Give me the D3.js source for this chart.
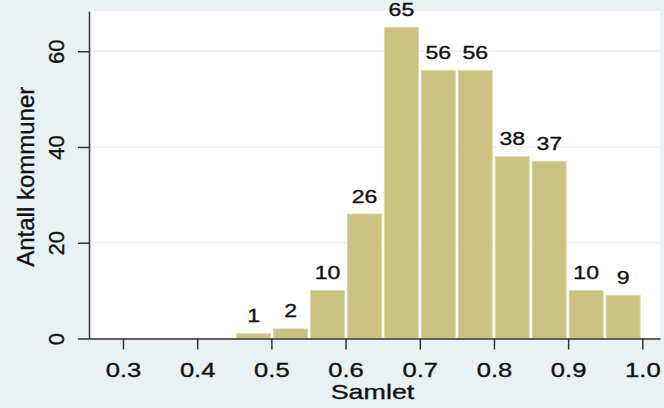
<!DOCTYPE html>
<html>
<head>
<meta charset="utf-8">
<script src="https://cdn.jsdelivr.net/npm/d3@7"></script>
<style>
  body { margin: 0; background: #e9f1f3; }
  text { font-family: "Liberation Sans", Arial, sans-serif; fill: #111; stroke: #111; stroke-width: 0.35px; }
</style>
</head>
<body>
<div id="chart"></div>
<script>
// histogram: 11 bins, lower edge of first bin and bin width
var binStart = 0.4525;
var binWidth = 0.0498;
var counts = [1, 2, 10, 26, 65, 56, 56, 38, 37, 10, 9];
var xTicks = [0.3, 0.4, 0.5, 0.6, 0.7, 0.8, 0.9, 1.0];
var yTicks = [0, 20, 40, 60];
var xTitle = "Samlet";
var yTitle = "Antall kommuner";

var width = 664, height = 408;
var plotL = 89, plotR = 660, plotT = 11, plotB = 338.5;
var stretch = 1.28; // horizontal text is drawn wide in the original

var svg = d3.select("#chart")
  .append("svg")
  .attr("width", width)
  .attr("height", height);

svg.append("rect")
  .attr("width", width).attr("height", height)
  .attr("fill", "#e9f1f3");

var x = d3.scaleLinear().domain([0.2542, 1.0238]).range([plotL, plotR]);
var y = d3.scaleLinear().domain([0, 68.4]).range([plotB, plotT]);

// plot region
svg.append("rect")
  .attr("x", plotL).attr("y", plotT)
  .attr("width", plotR - plotL).attr("height", plotB - plotT)
  .attr("fill", "#ffffff");

// grid
svg.selectAll("line.grid")
  .data(yTicks.filter(function(d) { return d > 0; }))
  .enter()
  .append("line")
  .attr("class", "grid")
  .attr("x1", plotL).attr("x2", plotR)
  .attr("y1", function(d) { return y(d); })
  .attr("y2", function(d) { return y(d); })
  .attr("stroke", "#e6eff1")
  .attr("stroke-width", 1.2);

// bars
var bins = counts.map(function(c, i) {
  return { lo: binStart + i * binWidth, hi: binStart + (i + 1) * binWidth, n: c };
});

svg.selectAll("rect.bar")
  .data(bins)
  .enter()
  .append("rect")
  .attr("class", "bar")
  .attr("x", function(d) { return x(d.lo) + 0.5; })
  .attr("y", function(d) { return y(d.n); })
  .attr("width", function(d) { return x(d.hi) - x(d.lo) - 3; })
  .attr("height", function(d) { return y(0) - y(d.n); })
  .attr("fill", "#c9c281")
  .attr("stroke", "#ddd8a8")
  .attr("stroke-width", 1);

svg.selectAll("text.lab")
  .data(bins)
  .enter()
  .append("text")
  .attr("class", "lab")
  .attr("transform", function(d) {
    return "translate(" + (x((d.lo + d.hi) / 2) - 1) + "," + (y(d.n) - 11.5) + ") scale(" + stretch + ",1)";
  })
  .attr("text-anchor", "middle")
  .attr("font-size", 18)
  .text(function(d) { return d.n; });

// x axis
var xAxis = svg.append("g")
  .attr("transform", "translate(0," + plotB + ")")
  .call(d3.axisBottom(x).tickValues(xTicks).tickSize(11).tickSizeOuter(0).tickFormat(d3.format(".1f")));
xAxis.attr("font-size", null).attr("font-family", null);
xAxis.select(".domain").attr("stroke", "#333").attr("stroke-width", 1.5);
xAxis.selectAll(".tick line").attr("stroke", "#333").attr("stroke-width", 1.5);
xAxis.selectAll(".tick text")
  .attr("y", 0).attr("dy", 0)
  .attr("transform", "translate(0,38) scale(" + stretch + ",1)")
  .attr("font-size", 20)
  .attr("fill", "#111");

// y axis
var yAxis = svg.append("g")
  .attr("transform", "translate(" + plotL + ",0)")
  .call(d3.axisLeft(y).tickValues(yTicks).tickSize(11).tickSizeOuter(0));
yAxis.attr("font-size", null).attr("font-family", null);
yAxis.select(".domain").attr("stroke", "#333").attr("stroke-width", 1.5);
yAxis.selectAll(".tick line").attr("stroke", "#333").attr("stroke-width", 1.5);
yAxis.selectAll(".tick text")
  .attr("x", 0).attr("dy", 0)
  .attr("transform", "translate(-25,0) rotate(-90)")
  .attr("text-anchor", "middle")
  .attr("font-size", 22)
  .attr("fill", "#111");

// titles
svg.append("text")
  .attr("transform", "translate(" + ((plotL + plotR) / 2 - 2) + ",399) scale(" + stretch + ",1)")
  .attr("text-anchor", "middle")
  .attr("font-size", 21)
  .text(xTitle);

svg.append("text")
  .attr("transform", "translate(33.5," + ((plotT + plotB) / 2 + 2) + ") rotate(-90)")
  .attr("text-anchor", "middle")
  .attr("font-size", 24)
  .text(yTitle);
</script>
</body>
</html>
